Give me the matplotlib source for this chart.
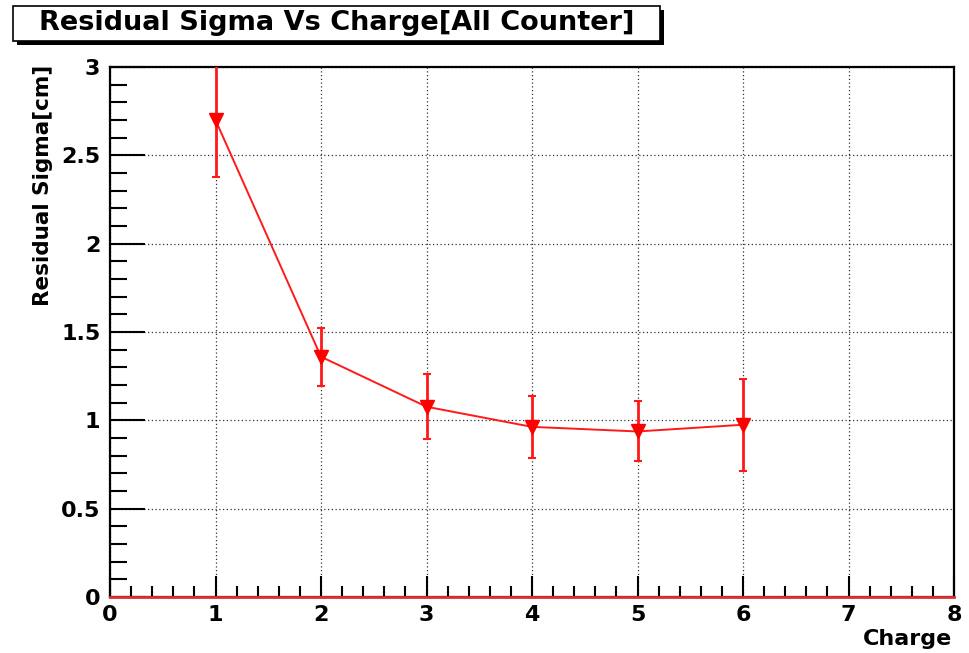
import matplotlib
matplotlib.use("Agg")
import matplotlib.pyplot as plt
from matplotlib.patches import Rectangle
from matplotlib.ticker import MultipleLocator

plt.rcParams['font.family'] = ['DejaVu Sans']
plt.rcParams['font.weight'] = 'bold'

# Residual sigma per charge, with its error
charge = [1, 2, 3, 4, 5, 6]
sigma = [2.70, 1.36, 1.077, 0.963, 0.937, 0.975]
sigma_err = [0.32, 0.163, 0.184, 0.177, 0.17, 0.26]

x_ticks = [0, 1, 2, 3, 4, 5, 6, 7, 8]
y_ticks = [0, 0.5, 1, 1.5, 2, 2.5, 3]
y_tick_labels = ["0", "0.5", "1", "1.5", "2", "2.5", "3"]

title = "Residual Sigma Vs Charge[All Counter]"
x_label = "Charge"
y_label = "Residual Sigma[cm]"

W, H = 970, 653
fig = plt.figure(figsize=(W / 100, H / 100), dpi=100)
left, right, bottom, top = 110, 954, 597, 67
ax = fig.add_axes([left / W, (H - bottom) / H, (right - left) / W, (bottom - top) / H])

ax.set_xlim(0, 8)
ax.set_ylim(0, 3)

ax.grid(True, which='major', linestyle=(0, (1, 2)), color='black', linewidth=0.9, alpha=0.8)
ax.set_axisbelow(True)

ax.plot(charge, sigma, color='#ff1a1a', linewidth=1.4, zorder=3)
ax.errorbar(charge, sigma, yerr=sigma_err, fmt='none', ecolor='#ff1a1a',
            elinewidth=2.0, capsize=3, capthick=1.5, zorder=4)
ax.plot(charge, sigma, linestyle='none', marker='v', markersize=9.5,
        color='#ff0000', zorder=5)

ax.axhline(0, color='#e03030', linewidth=2.0, zorder=6, clip_on=False)

ax.xaxis.set_minor_locator(MultipleLocator(0.2))
ax.yaxis.set_minor_locator(MultipleLocator(0.1))
ax.set_xticks(x_ticks)
ax.set_yticks(y_ticks)
ax.set_yticklabels(y_tick_labels)

ax.tick_params(axis='x', which='major', direction='in', length=15, width=1.5,
               labelsize=16, pad=6)
ax.tick_params(axis='x', which='minor', direction='in', length=8, width=1.5)
ax.tick_params(axis='y', which='major', direction='in', length=25, width=1.5,
               labelsize=16, pad=7)
ax.tick_params(axis='y', which='minor', direction='in', length=12, width=1.5)
for lab in ax.get_xticklabels() + ax.get_yticklabels():
    lab.set_fontweight('bold')

for s in ax.spines.values():
    s.set_linewidth(1.6)
    s.set_color('black')

# Axis titles placed at the top / right ends as in ROOT
fig.text(43 / W, 1 - 65 / H, y_label, rotation=90, ha='center', va='top',
         fontsize=15.5, fontweight='bold')
fig.text(952 / W, 1 - 639 / H, x_label, ha='right', va='center',
         fontsize=16, fontweight='bold')

# Title box with drop shadow
bx0, by0, bx1, by1 = 13, 6, 660, 41
fig.patches.append(Rectangle(((bx0 + 4) / W, 1 - (by1 + 4) / H), (bx1 - bx0) / W, (by1 - by0) / H,
                             transform=fig.transFigure, facecolor='black', edgecolor='none', zorder=1))
fig.patches.append(Rectangle((bx0 / W, 1 - by1 / H), (bx1 - bx0) / W, (by1 - by0) / H,
                             transform=fig.transFigure, facecolor='white', edgecolor='black',
                             linewidth=1.2, zorder=2))
fig.text((bx0 + bx1) / 2 / W, 1 - (by0 + by1) / 2 / H, title, ha='center', va='center',
         fontsize=19.5, fontweight='bold', zorder=3)

fig.savefig("out.png", dpi=100)
